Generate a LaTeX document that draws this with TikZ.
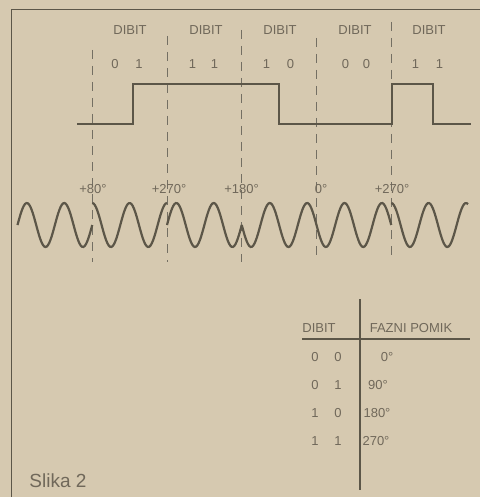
\documentclass[tikz,border=0pt]{standalone}
\usepackage{fontspec}
\setmainfont{Liberation Sans}
\definecolor{paper}{RGB}{214,201,176}
\definecolor{ink}{RGB}{92,86,72}
\definecolor{print}{RGB}{112,104,90}
\tikzstyle{dibittext} = [inner sep=0pt, text=print, font=\fontsize{13}{15}\selectfont]
\tikzstyle{captiontext} = [inner sep=0pt, text=print, font=\fontsize{19}{22}\selectfont]
\tikzstyle{frameline} = [draw=ink, line width=1pt]
\tikzstyle{sepline} = [draw=ink!85, line width=0.9pt, dash pattern=on 9pt off 7pt]
\tikzstyle{squarewave} = [draw=ink, line width=1.8pt]
\tikzstyle{sinewave} = [draw=ink, line width=2.2pt, smooth, samples=60]
\tikzstyle{tableline} = [draw=ink, line width=1.4pt]

\begin{document}
\begin{tikzpicture}[x=1pt, y=-1pt]

\fill[paper] (0,0) rectangle (480,497);
\useasboundingbox (0,0) rectangle (480,497);

% frame
\draw [frameline] (11,497) -- (11,10) -- (480,10);

% dibit boundaries
\draw [sepline] (92,50) -- (92,262);
\draw [sepline] (167,36) -- (167,262);
\draw [sepline] (241.5,30) -- (241.5,262);
\draw [sepline] (316.5,38) -- (316.5,262);
\draw [sepline] (391,22) -- (391,262);

\node (dibit1) [dibittext] at (130,30) {DIBIT};
\node (dibit2) [dibittext] at (206,30) {DIBIT};
\node (dibit3) [dibittext] at (280,30) {DIBIT};
\node (dibit4) [dibittext] at (355,30) {DIBIT};
\node (dibit5) [dibittext] at (429,30) {DIBIT};

\node (bits1) [dibittext] at (127,64) {0\hspace{17pt}1};
\node (bits2) [dibittext] at (203.5,64) {1\hspace{15pt}1};
\node (bits3) [dibittext] at (278.5,64) {1\hspace{17pt}0};
\node (bits4) [dibittext] at (356,64) {0\hspace{14pt}0};
\node (bits5) [dibittext] at (427.5,64) {1\hspace{17pt}1};

% data signal
\draw [squarewave] (77,124) -- (133,124) -- (133,84) -- (279,84) -- (279,124)
  -- (392,124) -- (392,84) -- (433,84) -- (433,124) -- (471,124);

% phase shifts
\node (shift1) [dibittext] at (93,189) {+80°};
\node (shift2) [dibittext] at (169,189) {+270°};
\node (shift3) [dibittext] at (241.5,189) {+180°};
\node (shift4) [dibittext] at (321,189) {0°};
\node (shift5) [dibittext] at (392,189) {+270°};

% modulated carrier (9.632 = 360/37.375)
\draw [sinewave, domain=17.5:92.25] plot (\x, {225-22*sin(9.632*(\x-17.5))});
\draw [sinewave, domain=92.25:167] plot (\x, {225-22*sin(9.632*(\x-17.5)+90)});
\draw [sinewave, domain=167:241.75] plot (\x, {225-22*sin(9.632*(\x-17.5))});
\draw [sinewave, domain=241.75:316.5] plot (\x, {225-22*sin(9.632*(\x-17.5)+180)});
\draw [sinewave, domain=316.5:391.25] plot (\x, {225-22*sin(9.632*(\x-17.5)+180)});
\draw [sinewave, domain=391.25:468] plot (\x, {225-22*sin(9.632*(\x-17.5)+90)});

% table
\draw [tableline] (360,299) -- (360,490);
\draw [tableline] (302,339) -- (470,339);

\node (headdibit) [dibittext] at (319,328) {DIBIT};
\node (headshift) [dibittext] at (411,328) {FAZNI POMIK};

\node (row1) [dibittext] at (326.5,357) {0\hspace{16pt}0};
\node (row2) [dibittext] at (326.5,385) {0\hspace{16pt}1};
\node (row3) [dibittext] at (326.5,413) {1\hspace{16pt}0};
\node (row4) [dibittext] at (326.5,441) {1\hspace{16pt}1};

\node (phase1) [dibittext] at (387,357) {0°};
\node (phase2) [dibittext] at (378,385) {90°};
\node (phase3) [dibittext] at (377,413) {180°};
\node (phase4) [dibittext] at (376,441) {270°};

\node (caption) [captiontext] at (58,481) {Slika 2};

\end{tikzpicture}
\end{document}
